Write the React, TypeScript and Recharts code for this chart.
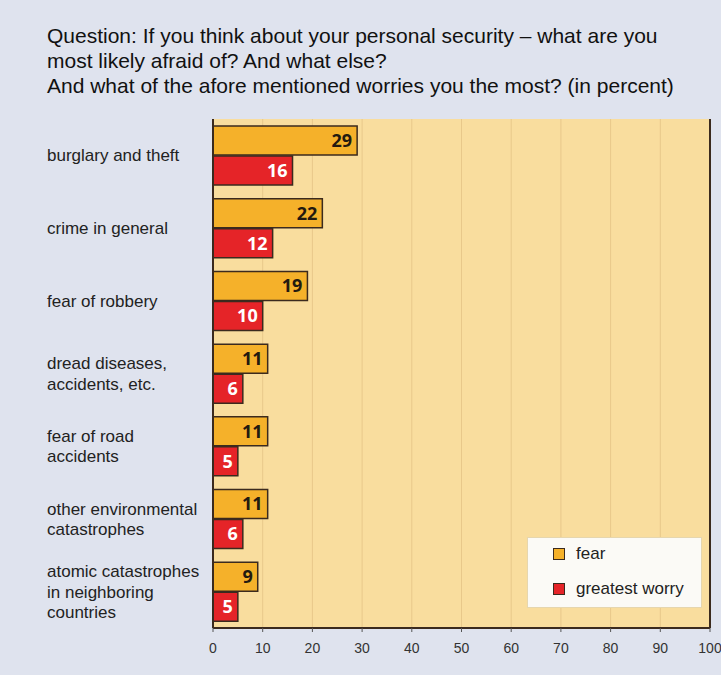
import React from 'react';
import {
  BarChart,
  Bar,
  XAxis,
  YAxis,
  CartesianGrid,
  LabelList,
  Legend,
  ReferenceLine,
} from 'recharts';

// Survey answers in percent
const categories = [
  'burglary and theft',
  'crime in general',
  'fear of robbery',
  'dread diseases, accidents, etc.',
  'fear of road accidents',
  'other environmental catastrophes',
  'atomic catastrophes in neighboring countries',
];
const categoryLines: string[][] = [
  ['burglary and theft'],
  ['crime in general'],
  ['fear of robbery'],
  ['dread diseases,', 'accidents, etc.'],
  ['fear of road', 'accidents'],
  ['other environmental', 'catastrophes'],
  ['atomic catastrophes', 'in neighboring', 'countries'],
];
const fear = [29, 22, 19, 11, 11, 11, 9];
const greatestWorry = [16, 12, 10, 6, 5, 6, 5];
const xTicks = [0, 10, 20, 30, 40, 50, 60, 70, 80, 90, 100];
const bandTicks = [0, 1, 2, 3, 4, 5, 6, 7];

const data = categories.map((name, i) => ({
  name,
  fear: fear[i],
  worry: greatestWorry[i],
}));

const FONT = '"Liberation Sans", Arial, sans-serif';
const ORANGE = '#f5b12a';
const RED = '#e52428';
const EDGE = '#3b2a1e';

const CategoryTick = (props: any) => {
  const { y, payload } = props;
  const idx = categories.indexOf(payload.value);
  const lines = categoryLines[idx] || [payload.value];
  const lh = 20.5;
  const start = y - ((lines.length - 1) * lh) / 2;
  return (
    <text x={47} y={start} fontFamily={FONT} fontSize={17} fill="#222" dominantBaseline="central">
      {lines.map((l, i) => (
        <tspan key={i} x={47} y={start + i * lh} dominantBaseline="central">
          {l}
        </tspan>
      ))}
    </text>
  );
};

const LegendBox = () => (
  <div
    style={{
      background: '#fbfaf6',
      border: '1px solid #e6d6ae',
      width: 175,
      height: 71,
      boxSizing: 'border-box',
      fontFamily: FONT,
      fontSize: 17,
      color: '#222',
      position: 'relative',
    }}
  >
    {[
      { label: 'fear', color: ORANGE, top: 6 },
      { label: 'greatest worry', color: RED, top: 41 },
    ].map((it) => (
      <div key={it.label} style={{ position: 'absolute', left: 25, top: it.top, display: 'flex', alignItems: 'center' }}>
        <span
          style={{
            display: 'inline-block',
            width: 10,
            height: 10,
            background: it.color,
            border: `1.5px solid ${EDGE}`,
            marginRight: 11,
          }}
        />
        <span>{it.label}</span>
      </div>
    ))}
  </div>
);

export default function App() {
  return (
    <div
      style={{
        position: 'absolute',
        left: 0,
        top: 0,
        width: 721,
        height: 675,
        background: '#dfe3ee',
        overflow: 'hidden',
      }}
    >
      <div
        style={{
          position: 'absolute',
          left: 47,
          top: 23,
          fontFamily: FONT,
          fontSize: 21,
          lineHeight: '25px',
          color: '#111',
          whiteSpace: 'nowrap',
        }}
      >
        Question: If you think about your personal security – what are you
        <br />
        most likely afraid of? And what else?
        <br />
        And what of the afore mentioned worries you the most? (in percent)
      </div>
      <BarChart
        width={721}
        height={675}
        data={data}
        layout="vertical"
        margin={{ top: 119, right: 11, bottom: 0, left: 0 }}
        barSize={29}
        barGap={1}
        style={{ position: 'absolute', left: 0, top: 0 }}
      >
        <CartesianGrid
          horizontal={false}
          stroke="#e8c88a"
          fill="#f9dd9e"
          fillOpacity={1}
        />
        <XAxis
          type="number"
          domain={[0, 100]}
          ticks={xTicks}
          interval={0}
          height={47}
          tickSize={4}
          tickLine={{ stroke: '#555' }}
          axisLine={{ stroke: EDGE, strokeWidth: 2 }}
          tick={{ fontFamily: FONT, fontSize: 14, fill: '#333', dy: 9 }}
        />
        <XAxis
          xAxisId="top"
          orientation="top"
          type="number"
          domain={[0, 100]}
          height={0}
          tick={false}
          tickLine={false}
          axisLine={{ stroke: '#9a8f80', strokeWidth: 1 }}
        />
        <YAxis
          yAxisId="bands"
          type="number"
          domain={[0, 7]}
          ticks={bandTicks}
          interval={0}
          width={0}
          tick={false}
          tickSize={4}
          tickLine={{ stroke: '#555' }}
          axisLine={false}
        />
        <YAxis
          type="category"
          dataKey="name"
          width={213}
          interval={0}
          tickLine={false}
          axisLine={{ stroke: EDGE, strokeWidth: 2 }}
          tick={<CategoryTick />}
        />
        <ReferenceLine x={100} stroke={EDGE} strokeWidth={2} />
        <Bar dataKey="fear" fill={ORANGE} stroke={EDGE} strokeWidth={1.5} isAnimationActive={false}>
          <LabelList
            dataKey="fear"
            position="insideRight"
            offset={5}
            fill="#231a10"
            fontFamily='"Open Sans", sans-serif'
            fontWeight={700}
            fontSize={18}
          />
        </Bar>
        <Bar dataKey="worry" fill={RED} stroke={EDGE} strokeWidth={1.5} isAnimationActive={false}>
          <LabelList
            dataKey="worry"
            position="insideRight"
            offset={5}
            fill="#ffffff"
            fontFamily='"Open Sans", sans-serif'
            fontWeight={700}
            fontSize={18}
          />
        </Bar>
        <Legend
          layout="vertical"
          align="center"
          verticalAlign="middle"
          content={<LegendBox />}
          wrapperStyle={{ position: 'absolute', left: 527, top: 537, width: 175, height: 71 }}
        />
      </BarChart>
    </div>
  );
}
